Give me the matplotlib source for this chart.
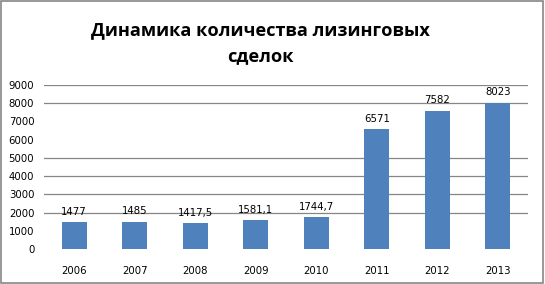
import numpy as np
import matplotlib.pyplot as plt
from matplotlib.patches import Rectangle

years = ['2006', '2007', '2008', '2009', '2010', '2011', '2012', '2013']
deals = [1477, 1485, 1417.5, 1581.1, 1744.7, 6571, 7582, 8023]
deal_labels = ['1477', '1485', '1417,5', '1581,1', '1744,7', '6571', '7582', '8023']
grid_levels = [2000, 3000, 4000, 5000, 8000, 9000]

fig = plt.figure(figsize=(5.45, 2.84), dpi=100)
ax = fig.add_axes([44/545, 1 - 249/284, 484/545, 164/284])

x = np.arange(len(years))
for g in grid_levels:
    ax.axhline(g, color='#868686', lw=0.9, zorder=0)
ax.bar(x, deals, width=0.41, color='#4F81BD', zorder=2)

for xi, v, lab in zip(x, deals, deal_labels):
    ax.annotate(lab, (xi, v), xytext=(0, 4), textcoords='offset points',
                ha='center', va='bottom', fontsize=7.3, family='DejaVu Sans')

ax.set_xlim(-0.5, len(years) - 0.5)
ax.set_ylim(0, 9000)
ax.set_yticks(np.arange(0, 9001, 1000))
ax.set_xticks(x)
ax.set_xticklabels(years)
ax.tick_params(axis='both', length=0, labelsize=7.3)
ax.tick_params(axis='x', pad=12)
ax.tick_params(axis='y', pad=7)
for s in ax.spines.values():
    s.set_visible(False)

title_x = 260/545
fig.text(title_x, 1 - 30/284, 'Динамика количества лизинговых', ha='center', va='center',
         fontsize=13.1, fontweight='bold', family='Open Sans')
fig.text(title_x, 1 - 56/284, 'сделок', ha='center', va='center',
         fontsize=13.1, fontweight='bold', family='Open Sans')

fig.patches.append(Rectangle((0.002, 0.004), 0.995, 0.992, transform=fig.transFigure,
                             fill=False, edgecolor='#868686', lw=1.2))

fig.savefig('out.png', dpi=100)
